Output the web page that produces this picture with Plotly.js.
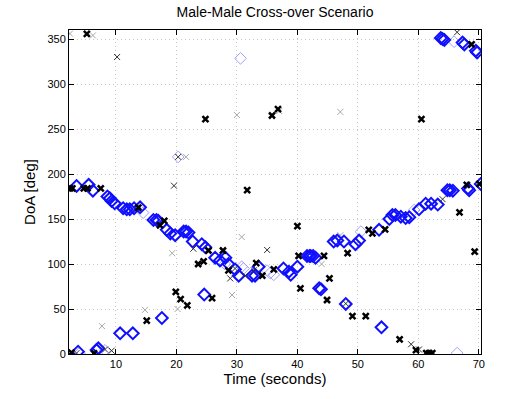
<!DOCTYPE html>
<html><head><meta charset="utf-8">
<script src="https://cdn.plot.ly/plotly-3.0.1.min.js"></script>
<style>body{margin:0;background:#fff}#c{width:532px;height:399px}</style>
</head><body><div id="c"></div>
<script>
// Blue diamonds (strong)
const blueT = [3.5,5.5,6.2,8.6,9.0,9.3,9.8,11.2,11.8,12.3,13.0,14.0,16.2,16.7,17.0,18.4,19.0,19.8,21.2,21.6,22.0,22.7,24.2,24.8,26.4,27.2,28.1,28.6,29.7,30.3,32.5,33.0,33.6,37.7,38.6,38.9,40.0,41.6,42.0,42.2,42.6,43.0,46.0,46.6,47.7,49.6,50.2,53.5,55.2,55.7,56.2,57.1,57.9,58.5,60.1,61.2,62.1,63.2,64.8,65.2,65.7,68.2,68.4,70.3,
  3.75,6.8,7.1,10.7,12.8,17.6,24.6,43.6,43.9,48.0,53.9,
  63.7,64.0,64.3,67.3,67.6,69.5,69.7];
const blueD = [186.7,188,181.5,175,173,170,167.4,162,160.8,160.8,162,163,149,149,148,138,134,132,136,136,135,125,122,118.5,107,104,107,100,94,87,87,87,97,95,91.5,88,97,109,109,109,109,107,125,126,125,122,126,138,150,154.4,154.4,152.6,151,152,160.8,167,167,166,182,182,181.5,184,182,189,
  2.6,4.4,6.3,23,23,40,66,73,72,55.6,29.7,
  351,350,349,346,344,337,335];
// Blue diamonds (faint)
const faintBlueT = [4.0,8.2,20.3,30.6,31.1,35.0,35.5,36.1,50.5,59.3,66.4,65.9,28.0,14.5,30.8];
const faintBlueD = [1,4,219,328.5,95,92.6,90,88,136,160,1,347,100,157,97];
// Black crosses (bold)
const boldXT = [2.4,2.8,4.7,5.3,7.5,13.7,17.3,18.0,23.6,24.5,25.3,27.7,19.9,20.7,21.8,15.1,25.9,24.8,5.2,31.7,35.8,36.8,60.5,68.0,70.1,66.8,69.3,68.8,40.0,40.2,40.5,44.4,45.3,44.9,48.3,49.1,51.3,52.4,51.8,54.5,56.9,61.3,61.8,62.3,2.65,6.4,28.6,33.2,34.2,36.1,59.6];
const boldXD = [184,184,184,184,184,162.6,143,148,100,103,115,115,69,61,54,37,62,261,355.6,182,265,272,261,188,189,157.4,113.7,344,142,109,73,109,84,60,112,42,42,134,138,138.5,16.3,1,1,1,1.5,0.7,93,101,87,94,4.4];
// Black crosses (thin)
const thinXT = [10.2,19.6,22.8,35.0,28.9,31.4,29.7,8.2,9.3,3.5,48.0,58.8,60.1,64.0,66.4,20.3,32.8];
const thinXD = [330,187,117,115.6,84,87,95,5,3.7,1,56,10.8,5,172,357.5,219,93];
// Grey crosses (faint)
const lightXT = [2.4,6.2,7.7,14.8,20.2,19.3,21.6,30.0,47.1,29.2,30.8,44.0,47.1,37.0];
const lightXD = [356,354,31,49,50,112,219,265.6,269,65.6,130,100,132,270];

const xTicks = [10,20,30,40,50,60,70];
const yTicks = [0,50,100,150,200,250,300,350];

const traces = [
  {x: lightXT, y: lightXD, mode:'markers', type:'scatter',
   marker:{symbol:'x-thin', size:6, line:{width:1, color:'#a8a8a8'}}},
  {x: faintBlueT, y: faintBlueD, mode:'markers', type:'scatter',
   marker:{symbol:'diamond-open', size:9, color:'#a0a0ff', line:{width:1}}},
  {x: blueT, y: blueD, mode:'markers', type:'scatter',
   marker:{symbol:'diamond-open', size:9, color:'#1010ff', line:{width:2}}},
  {x: thinXT, y: thinXD, mode:'markers', type:'scatter',
   marker:{symbol:'x-thin', size:6, line:{width:1, color:'#303030'}}},
  {x: boldXT, y: boldXD, mode:'markers', type:'scatter',
   marker:{symbol:'x-thin', size:6, line:{width:2.5, color:'#000000'}}}
];

const axisCommon = {
  showline:true, linecolor:'#000', linewidth:1, mirror:'ticks',
  ticks:'inside', ticklen:5, tickcolor:'#000',
  showgrid:true, gridcolor:'#c8c8c8', griddash:'1px,3px', gridwidth:1,
  zeroline:false, tickfont:{family:'Liberation Sans, Arial, sans-serif', size:11, color:'#000'}
};

const layout = {
  width:532, height:399,
  margin:{l:69, r:51, t:30, b:45},
  paper_bgcolor:'#fff', plot_bgcolor:'#fff',
  showlegend:false,
  title:{text:'Male-Male Cross-over Scenario', x:0.517, xanchor:'center', y:0.97, yanchor:'middle',
         font:{family:'Liberation Sans, Arial, sans-serif', size:14, color:'#000'}},
  xaxis: Object.assign({}, axisCommon, {range:[2.25,70.35], tickvals:xTicks,
    title:{text:'Time (seconds)', standoff:4, font:{family:'Liberation Sans, Arial, sans-serif', size:15, color:'#000'}}}),
  yaxis: Object.assign({}, axisCommon, {range:[0,360], tickvals:yTicks,
    title:{text:'DoA [deg]', standoff:8, font:{family:'Liberation Sans, Arial, sans-serif', size:15, color:'#000'}}})
};

Plotly.newPlot('c', traces, layout, {staticPlot:true, displayModeBar:false});
</script>
</body></html>
